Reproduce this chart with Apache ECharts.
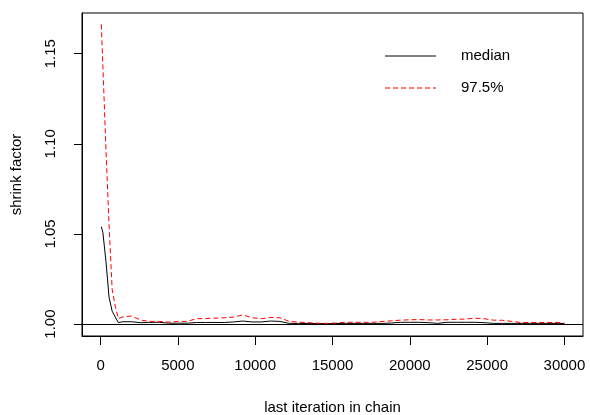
<!DOCTYPE html>
<html>
<head>
<meta charset="utf-8">
<script src="https://cdn.jsdelivr.net/npm/echarts@6/dist/echarts.min.js"></script>
<style>html,body{margin:0;padding:0;background:#fff}#c{width:590px;height:415px}</style>
</head>
<body>
<div id="c"></div>
<script>
var iterations = [50,150,350,550,750,950,1150,
  1400,2000,2600,3200,3800,4400,5000,5600,6200,6800,7400,8000,8600,9200,9800,10400,11000,11600,
  12200,12800,13400,14000,14600,15200,15800,16400,17000,17600,18200,18800,19400,20000,20600,21200,
  21800,22400,23000,23600,24200,24800,25400,26000,26600,27200,27800,28400,29000,29600,30000];
var median = [1.0541,1.0508,1.0348,1.0149,1.0072,1.0039,1.0008,
  1.0013,1.0013,1.0008,1.0010,1.0010,1.0005,1.0005,1.0005,1.0009,1.0009,1.0009,1.0009,1.0012,1.0017,1.0012,1.0012,1.0017,1.0015,
  1.0004,1.0004,1.0003,1.0003,1.0003,1.0003,1.0004,1.0004,1.0004,1.0004,1.0004,1.0006,1.0010,1.0010,1.0010,1.0008,
  1.0004,1.0010,1.0010,1.0010,1.0010,1.0008,1.0004,1.0004,1.0004,1.0004,1.0004,1.0004,1.0004,1.0004,1.0003];
var upper = [1.1663,1.1431,1.0967,1.0552,1.0193,1.0099,1.0030,
  1.0039,1.0045,1.0022,1.0015,1.0015,1.0011,1.0015,1.0015,1.0030,1.0031,1.0033,1.0035,1.0039,1.0051,1.0035,1.0030,1.0037,1.0035,
  1.0015,1.0011,1.0008,1.0005,1.0004,1.0006,1.0010,1.0010,1.0010,1.0010,1.0015,1.0018,1.0022,1.0024,1.0025,1.0023,
  1.0023,1.0024,1.0027,1.0028,1.0033,1.0030,1.0022,1.0021,1.0015,1.0009,1.0009,1.0009,1.0009,1.0009,1.0005];
var xTicks = [0,5000,10000,15000,20000,25000,30000];
var yTicks = [1.00,1.05,1.10,1.15];
var seriesNames = ['median','97.5%'];

function pairs(xs, ys){ return xs.map(function(x,i){ return [x, ys[i]]; }); }

var chart = echarts.init(document.getElementById('c'), null, {renderer:'canvas'});
var font = 'Liberation Sans, Arial, Helvetica, sans-serif';
chart.setOption({
  animation: false,
  backgroundColor: '#fff',
  grid: {left: 82, right: 7, top: 13, bottom: 79, containLabel: false, outerBoundsMode: 'none',
    show: true, borderColor: '#000', borderWidth: 1, backgroundColor: 'transparent'},
  xAxis: {
    type: 'value', min: -1200, max: 31200,
    name: 'last iteration in chain', nameLocation: 'middle', nameGap: 64,
    nameTextStyle: {color: '#000', fontSize: 15, fontFamily: font},
    axisLine: {show: true, onZero: false, lineStyle: {color: '#000', width: 1}},
    axisTick: {show: true, length: 9, customValues: xTicks, lineStyle: {color: '#000', width: 1}},
    axisLabel: {show: true, customValues: xTicks, margin: 22, color: '#000', fontSize: 15, fontFamily: font,
      formatter: function(v){ return String(v); }},
    splitLine: {show: false}
  },
  yAxis: {
    type: 'value', min: 0.9934, max: 1.1726,
    name: 'shrink factor', nameLocation: 'middle', nameGap: 58,
    nameTextStyle: {color: '#000', fontSize: 15, fontFamily: font},
    axisLine: {show: true, onZero: false, lineStyle: {color: '#000', width: 1}},
    axisTick: {show: true, length: 8, customValues: yTicks, lineStyle: {color: '#000', width: 1}},
    axisLabel: {show: true, customValues: yTicks, rotate: 90, margin: 24, color: '#000', fontSize: 15, fontFamily: font,
      formatter: function(v){ return v.toFixed(2); }},
    splitLine: {show: false}
  },
  legend: {show: false},
  series: [
    {name: seriesNames[0], type: 'line', data: pairs(iterations, median), showSymbol: false, symbol: 'none',
     lineStyle: {color: '#000', width: 1}, z: 3,
     markLine: {silent: true, symbol: 'none', label: {show: false}, lineStyle: {color: '#000', width: 1, type: 'solid'},
       data: [{yAxis: 1}]}},
    {name: seriesNames[1], type: 'line', data: pairs(iterations, upper), showSymbol: false, symbol: 'none',
     lineStyle: {color: '#ff0000', width: 1, type: [5, 3]}, z: 4}
  ],
  graphic: [
    {type: 'line', shape: {x1: 385, y1: 56, x2: 436, y2: 56}, style: {stroke: '#000', lineWidth: 1}},
    {type: 'line', shape: {x1: 385, y1: 88, x2: 436, y2: 88}, style: {stroke: '#ff0000', lineWidth: 1, lineDash: [5, 3]}},
    {type: 'text', left: 461, top: 48, style: {text: seriesNames[0], fill: '#000', font: '15px ' + font}},
    {type: 'text', left: 461, top: 80, style: {text: seriesNames[1], fill: '#000', font: '15px ' + font}}
  ]
});
</script>
</body>
</html>
